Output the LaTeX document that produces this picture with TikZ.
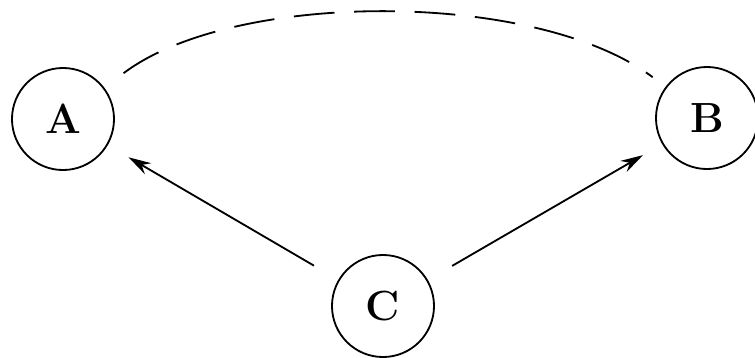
\documentclass[tikz,border=0pt]{standalone}
\usetikzlibrary{arrows.meta}
\begin{document}
\begin{tikzpicture}[x=0.025cm, y=-0.025cm,
  vertex/.style={circle, draw, line width=1.3pt, minimum size=2.55cm, inner sep=0pt,
                 font=\fontsize{30}{36}\selectfont\bfseries},
  arr/.style={-{Stealth[length=16pt, width=9pt]}, line width=1.3pt},
  link/.style={line width=1.3pt, dash pattern=on 29pt off 14pt},
]
\useasboundingbox (0,0) rectangle (755,357);
\node[vertex] (a) at (63,119)  {A};
\node[vertex] (b) at (707,118) {B};
\node[vertex] (c) at (383,306) {C};
\draw[link, shorten <=0.6cm, shorten >=0.4cm] (a) to[bend left=37, looseness=0.74] (b);
\draw[arr, shorten <=0.7cm, shorten >=0.6cm] (c) -- (a);
\draw[arr, shorten <=0.7cm, shorten >=0.55cm] (c) -- (b);
\end{tikzpicture}
\end{document}
